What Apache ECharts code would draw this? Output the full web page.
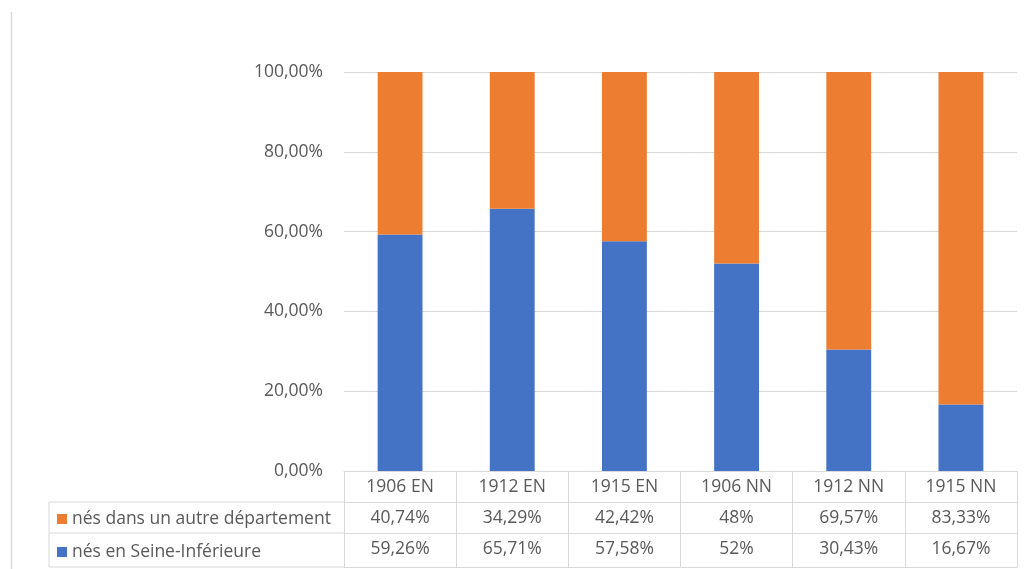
<!DOCTYPE html>
<html>
<head>
<meta charset="utf-8">
<script src="https://cdn.jsdelivr.net/npm/echarts@6/dist/echarts.min.js"></script>
<style>
  html, body { margin: 0; padding: 0; background: #fff; }
  #chart { width: 1027px; height: 569px; }
</style>
</head>
<body>
<div id="chart"></div>
<script>
const categories = ['1906 EN', '1912 EN', '1915 EN', '1906 NN', '1912 NN', '1915 NN'];
const autreDept = [40.74, 34.29, 42.42, 48, 69.57, 83.33];
const seineInf = [59.26, 65.71, 57.58, 52, 30.43, 16.67];
const yTicks = [0, 20, 40, 60, 80, 100];

const nameAutre = 'nés dans un autre département';
const nameSeine = 'nés en Seine-Inférieure';

var chartDom = document.getElementById('chart');
var myChart = echarts.init(chartDom);

const font = 'Open Sans';
const textColor = '#595959';
const lineColor = '#d9d9d9';
const fs = 17.5;

// table layout
const gridLeft = 344, gridRight = 10, gridTop = 72, gridBottom = 98;
const rowH = 31;
const tableLeft = 49;
const axisY = 569 - gridBottom;
const tableBottom = axisY + rowH * 3 + 3;

const pct = v => String(v).replace('.', ',') + '%';

function tableAxis(offset, values) {
  return {
    type: 'category',
    data: categories,
    position: 'bottom',
    offset: offset,
    axisLine: { show: true, lineStyle: { color: lineColor, width: 1 } },
    axisTick: { show: false },
    axisLabel: {
      show: !!values,
      interval: 0,
      margin: 7,
      color: textColor,
      fontFamily: font,
      fontSize: fs,
      formatter: (v, i) => values ? pct(values[i]) : ''
    }
  };
}

// one legend per table row
function rowLegend(name, top) {
  return {
    left: 52,
    top: top,
    itemWidth: 10,
    itemHeight: 10,
    itemGap: 0,
    icon: 'rect',
    data: [name],
    selectedMode: false,
    textStyle: { color: textColor, fontFamily: font, fontSize: fs, lineHeight: 20 }
  };
}

var option = {
  animation: false,
  grid: { left: gridLeft, right: gridRight, top: gridTop, bottom: gridBottom },
  legend: [
    rowLegend(nameAutre, axisY + rowH + 2),
    rowLegend(nameSeine, axisY + rowH * 2 + 4)
  ],
  yAxis: {
    type: 'value',
    min: yTicks[0],
    max: yTicks[yTicks.length - 1],
    interval: yTicks[1] - yTicks[0],
    axisLine: { show: false },
    axisTick: { show: false },
    axisLabel: {
      margin: 21,
      color: textColor,
      fontFamily: font,
      fontSize: fs,
      formatter: v => v.toFixed(2).replace('.', ',') + '%'
    },
    splitLine: { show: true, lineStyle: { color: lineColor, width: 1 } }
  },
  xAxis: [
    {
      type: 'category',
      data: categories,
      position: 'bottom',
      axisLine: { show: true, lineStyle: { color: lineColor, width: 1 } },
      axisTick: {
        show: true,
        interval: 0,
        alignWithLabel: false,
        length: tableBottom - axisY,
        lineStyle: { color: lineColor, width: 1 }
      },
      axisLabel: {
        interval: 0,
        margin: 7,
        color: textColor,
        fontFamily: font,
        fontSize: fs
      }
    },
    tableAxis(rowH, autreDept),
    tableAxis(rowH * 2, seineInf),
    tableAxis(tableBottom - axisY, null)
  ],
  series: [
    {
      name: nameSeine,
      type: 'bar',
      stack: 'total',
      barWidth: '40%',
      itemStyle: { color: '#4472C4' },
      data: seineInf
    },
    {
      name: nameAutre,
      type: 'bar',
      stack: 'total',
      barWidth: '40%',
      itemStyle: { color: '#ED7D31' },
      data: autreDept
    }
  ],
  graphic: [
    // outer chart border on the left
    { type: 'line', shape: { x1: 11.5, y1: 12, x2: 11.5, y2: 569 }, style: { stroke: lineColor, lineWidth: 1.5 } },
    // legend column of the data table
    { type: 'line', shape: { x1: tableLeft, y1: axisY + rowH, x2: gridLeft, y2: axisY + rowH }, style: { stroke: lineColor } },
    { type: 'line', shape: { x1: tableLeft, y1: axisY + rowH * 2, x2: gridLeft, y2: axisY + rowH * 2 }, style: { stroke: lineColor } },
    { type: 'line', shape: { x1: tableLeft, y1: tableBottom, x2: gridLeft, y2: tableBottom }, style: { stroke: lineColor } },
    { type: 'line', shape: { x1: tableLeft, y1: axisY + rowH, x2: tableLeft, y2: tableBottom }, style: { stroke: lineColor } }
  ]
};

option && myChart.setOption(option);
</script>
</body>
</html>
